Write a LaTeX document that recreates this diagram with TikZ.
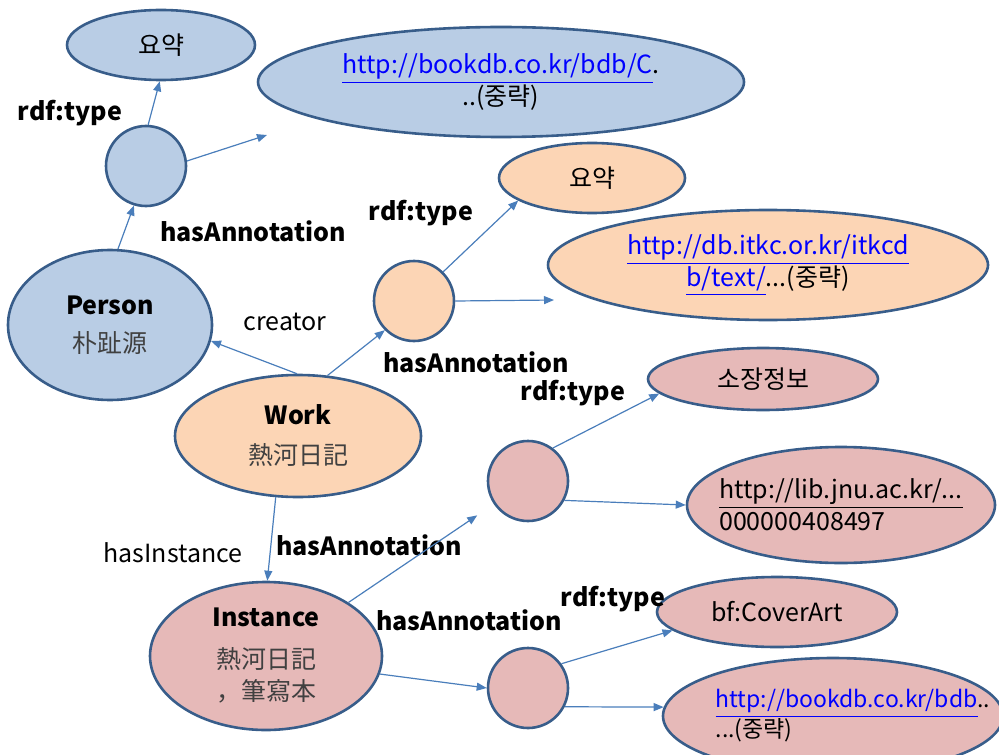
\documentclass[tikz,border=0pt]{standalone}
\usepackage{fontspec}
\setmainfont{Noto Sans CJK KR}
\usepackage{tikz}
\usetikzlibrary{shapes.geometric,arrows.meta}
\definecolor{bluefill}{HTML}{B9CDE5}
\definecolor{orangefill}{HTML}{FCD5B5}
\definecolor{pinkfill}{HTML}{E6B9B8}
\definecolor{rim}{HTML}{385D8A}
\definecolor{pfeilc}{HTML}{4A7EBB}
\definecolor{linkblue}{HTML}{0000FF}
\definecolor{hanjagray}{HTML}{404040}
\newcommand{\weblink}[1]{{\color{linkblue}\underline{#1}}}
\newcommand{\cjkgray}[1]{{\color{hanjagray}#1}}

\begin{document}
\begin{tikzpicture}[x=0.5pt,y=-0.5pt,
  every node/.style={font=\fontsize{12.5}{16}\selectfont},
  knoten/.style={ellipse,draw=rim,line width=1.3pt,inner sep=0pt,align=center},
  bluenode/.style={knoten,fill=bluefill},
  orangenode/.style={knoten,fill=orangefill},
  pinknode/.style={knoten,fill=pinkfill},
  anno/.style={circle,draw=rim,line width=1.3pt,minimum size=40pt,inner sep=0pt},
  pfeil/.style={draw=pfeilc,line width=0.6pt,-{Triangle[length=5pt,width=4pt]}},
  rel/.style={font=\fontsize{12.5}{16}\selectfont\bfseries}]
\useasboundingbox (0,0) rectangle (999,754);
\clip (0,0) rectangle (999,754);
%Person-Teil (blau)
\node[bluenode,minimum width=94pt,minimum height=35pt] (typB) at (161,45) {요약};
\node[bluenode,minimum width=243pt,minimum height=55pt] (uriB) at (501,82) {\weblink{http://bookdb.co.kr/bdb/C}.\\..(중략)};
\node[anno,fill=bluefill] (annB) at (146,166) {};
\node[bluenode,minimum width=102pt,minimum height=75pt] (person) at (110,325) {\textbf{Person}\\[3pt]\cjkgray{朴趾源}};
%Work-Teil (orange)
\node[orangenode,minimum width=123pt,minimum height=61pt] (work) at (298,436) {\textbf{Work}\\[4pt]\cjkgray{熱河日記}};
\node[anno,fill=orangefill] (annW) at (414,301) {};
\node[orangenode,minimum width=93pt,minimum height=35pt] (typW) at (592,178) {요약};
\node[orangenode,minimum width=220pt,minimum height=55pt] (uriW) at (768,265) {\weblink{http://db.itkc.or.kr/itkcd}\\\weblink{b/text/}...(중략)};
%Instance-Teil (rosa)
\node[pinknode,minimum width=116pt,minimum height=74pt] (inst) at (266,656) {\textbf{Instance}\\[5pt]\cjkgray{熱河日記}\\\cjkgray{，筆寫本}};
\node[anno,fill=pinkfill] (annI1) at (528,481) {};
\node[pinknode,minimum width=115pt,minimum height=31pt] (sojang) at (763,379) {소장정보};
\node[pinknode,minimum width=154pt,minimum height=58pt,align=left,inner xsep=-8pt] (uriI1) at (841,505) {\underline{http://lib.jnu.ac.kr/...}\\000000408497};
\node[anno,fill=pinkfill] (annI2) at (528,688) {};
\node[pinknode,minimum width=120pt,minimum height=35pt] (cover) at (777,612) {bf:CoverArt};
\node[pinknode,minimum width=170pt,minimum height=58pt,align=left,inner xsep=-20pt,font=\fontsize{11.5}{15}\selectfont] (uriI2) at (833,716) {\hspace*{20pt}\weblink{http://bookdb.co.kr/bdb}..\\\hspace*{20pt}...(중략)};
%Beschriftungen
\node[rel] (rt1) at (70,113) {rdf:type};
\node[rel] (ha1) at (253,231) {hasAnnotation};
\node[rel] (rt2) at (421,213) {rdf:type};
\node (cr) at (285,322) {creator};
\node[rel] (ha2) at (476,362) {hasAnnotation};
\node[rel] (rt3) at (573,393) {rdf:type};
\node (hi) at (173,553) {hasInstance};
\node[rel] (ha3) at (369,545) {hasAnnotation};
\node[rel] (ha4) at (469,620) {hasAnnotation};
\node[rel] (rt4) at (613,599) {rdf:type};
%Pfeile
\coordinate (endB) at (267,135);
\coordinate (endW) at (554,300);
\draw[pfeil] (person.84) -- (annB.253);
\draw[pfeil] (annB.87) -- (typB.268);
\draw[pfeil] (annB.7) -- (endB);
\draw[pfeil] (work.91) -- (person.-9);
\draw[pfeil] (work.64) -- (annW.225);
\draw[pfeil] (annW.45) -- (typW.197);
\draw[pfeil] (annW.0) -- (endW);
\draw[pfeil] (work.250) -- (inst.89);
\draw[pfeil,shorten >=10pt] (inst.33) -- (annI1);
\draw[pfeil] (inst.-9) -- (annI2.180);
\draw[pfeil] (annI1.53) -- (sojang.188);
\draw[pfeil] (annI1.-28) -- (uriI1.180);
\draw[pfeil] (annI2.36) -- (cover.190);
\draw[pfeil] (annI2.-27) -- (uriI2.177);
\end{tikzpicture}
\end{document}
